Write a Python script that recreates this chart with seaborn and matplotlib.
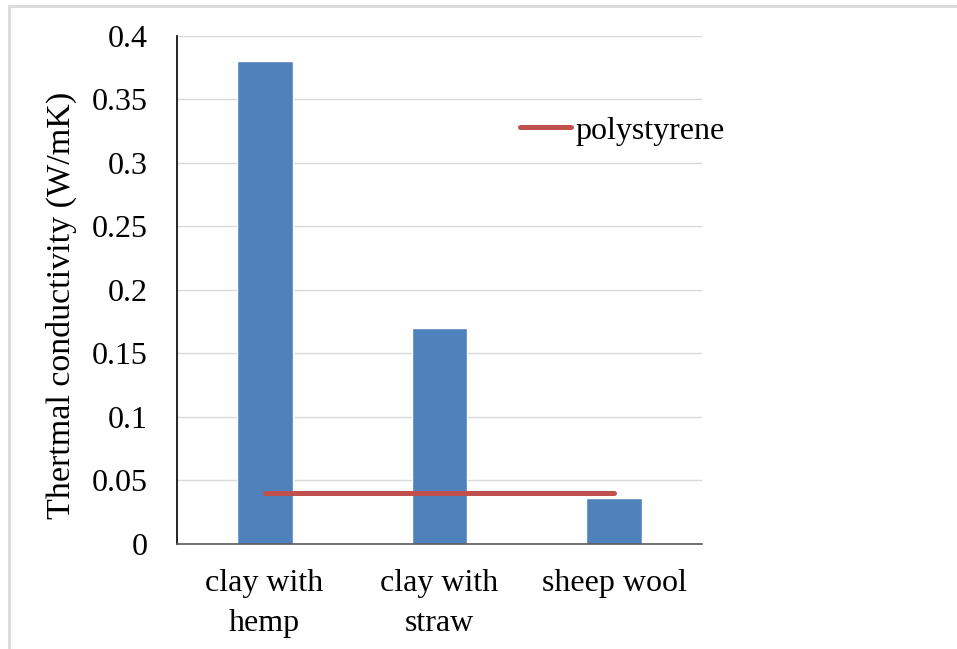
import seaborn as sns
import matplotlib.pyplot as plt
from matplotlib.lines import Line2D

# data
categories = ["clay with\nhemp", "clay with\nstraw", "sheep wool"]
conductivity = [0.38, 0.17, 0.036]
polystyrene = [0.04, 0.04, 0.04]
y_ticks = [0, 0.05, 0.1, 0.15, 0.2, 0.25, 0.3, 0.35, 0.4]

sns.set_theme(style="white")
plt.rcParams["font.family"] = ["Liberation Serif", "DejaVu Serif"]

fig = plt.figure(figsize=(9.57, 6.49), dpi=100)
ax = fig.add_axes([0.185, 0.162, 0.5485, 0.7825])

sns.barplot(x=categories, y=conductivity, color="#4F81BD", saturation=1,
            width=0.32, ax=ax, zorder=2)
sns.lineplot(x=categories, y=polystyrene, color="#C0504D", linewidth=3.6,
             sort=False, label="polystyrene", ax=ax, zorder=3)
ax.lines[-1].set_solid_capstyle("round")

ax.set_ylim(0, 0.4)
ax.set_xlim(-0.5, 2.5)
ax.set_yticks(y_ticks)
ax.set_yticklabels([f"{v:g}" for v in y_ticks])
ax.yaxis.grid(True, color="#D9D9D9", linewidth=1)
ax.set_axisbelow(True)

ax.tick_params(axis="y", length=0, pad=21, labelsize=23, colors="black")
ax.tick_params(axis="x", length=0, pad=18, labelsize=23, colors="black")
for lab in ax.get_xticklabels():
    lab.set_linespacing(1.5)

ax.set_ylabel("Thertmal conductivity (W/mK)", fontsize=24.5, color="black")
ax.yaxis.set_label_coords(-0.19, 0.47)
ax.set_xlabel("")

for s in ["top", "right"]:
    ax.spines[s].set_visible(False)
ax.spines["left"].set_color("black")
ax.spines["left"].set_linewidth(1.2)
ax.spines["bottom"].set_color("#595959")
ax.spines["bottom"].set_linewidth(1.2)

leg = ax.legend(loc="center left", bbox_to_anchor=(520 / 957, 1 - 131 / 649),
                bbox_transform=fig.transFigure, frameon=False, fontsize=23,
                handlelength=1.6, handletextpad=0.15, borderpad=0,
                borderaxespad=0)
for t in leg.get_texts():
    t.set_color("black")

# light frame around the picture
fig.add_artist(Line2D([9 / 957, 1], [1 - 6 / 649, 1 - 6 / 649],
                      transform=fig.transFigure, color="#D9D9D9", linewidth=2))
fig.add_artist(Line2D([9 / 957, 9 / 957], [0, 1 - 6 / 649],
                      transform=fig.transFigure, color="#D9D9D9", linewidth=2))

fig.savefig("out.png", dpi=100)
